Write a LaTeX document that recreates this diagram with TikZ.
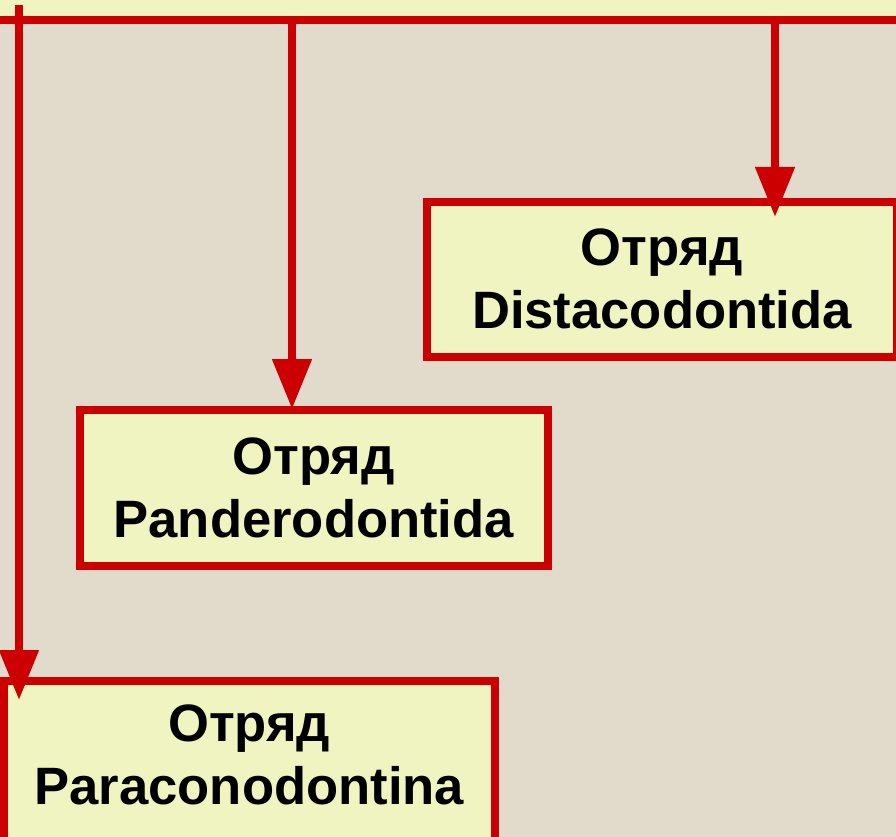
\documentclass[tikz,border=0pt]{standalone}
\usepackage{fontspec}
\setmainfont{Liberation Sans}
\usetikzlibrary{arrows.meta}
\definecolor{bg}{RGB}{226,218,203}
\definecolor{boxfill}{RGB}{240,244,192}
\definecolor{redline}{RGB}{204,0,0}
\tikzset{
  orderbox/.style={draw=redline, fill=boxfill, line width=8pt, outer sep=0pt, inner sep=0pt,
    align=center, font=\fontsize{52.6}{63}\selectfont\bfseries, text=black},
  conn/.style={draw=redline, line width=8pt, -{Triangle[length=50pt,width=38pt]}},
  plainline/.style={draw=redline, line width=8pt}
}
\begin{document}
\begin{tikzpicture}[x=1pt,y=-1pt]
\useasboundingbox (0,0) rectangle (896,837);
\clip (0,0) rectangle (896,837);
\fill[bg] (0,0) rectangle (896,837);
% top box (cropped)
\node[orderbox, minimum width=930pt, minimum height=80pt, anchor=south] (top) at (448,20) {};
% order boxes
\node[orderbox, minimum width=470pt, minimum height=155.5pt] (dist) at (662,279.25) {Отряд\\Distacodontida};
\node[orderbox, minimum width=468.5pt, minimum height=156pt] (pand) at (313.75,487.5) {Отряд\\Panderodontida};
\node[orderbox, minimum width=491.5pt, minimum height=160pt] (para) at (249.25,761) {};
\node[font=\fontsize{52.6}{63}\selectfont\bfseries, align=center, inner sep=0pt] (paratext) at (249.25,755) {Отряд\\Paraconodontina};
% connectors
\coordinate (sL) at (19,5);
\coordinate (tL) at (19,700);
\coordinate (tM) at (292,409);
\coordinate (tR) at (775,217);
\draw[conn] (sL) -- (tL);
\draw[conn] (top.south -| tM) -- (tM);
\draw[conn] (top.south -| tR) -- (tR);
\end{tikzpicture}
\end{document}
